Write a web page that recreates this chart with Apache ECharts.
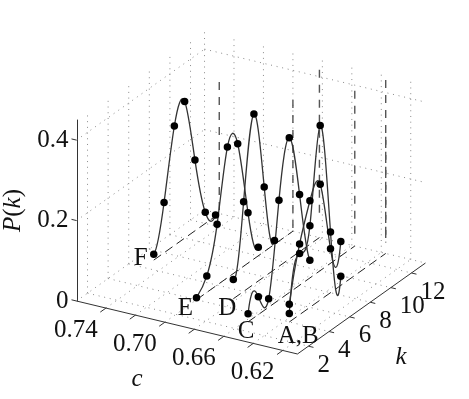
<!DOCTYPE html>
<html>
<head>
<meta charset="utf-8">
<style>html,body{margin:0;padding:0;background:#fff}#c{width:469px;height:399px}</style>
<script src="https://cdn.jsdelivr.net/npm/echarts@6/dist/echarts.min.js"></script>
</head>
<body>
<div id="c"></div>
<script>
// ---- data ----
const curveNames = ['F', 'E', 'D', 'C', 'A', 'B'];
const curveC     = [0.75, 0.70, 0.682, 0.658, 0.637, 0.637];
const curveKFrom = [7, 4, 5, 3, 4, 4];
const curveF = [0.0144, 0.125, 0.297, 0.34, 0.176, 0.028, 0.003];
const curveE = [0.005, 0.041, 0.151, 0.325, 0.315, 0.125, 0.021];
const curveD = [0.048, 0.223, 0.423, 0.223, 0.072];
const curveCC = [0.02, 0.044, 0.021, 0.248, 0.385, 0.226, 0.044];
const curveA = [0.021, 0.152, 0.203, 0.434, 0.151, 0.023];
const curveB = [0.044, 0.176, 0.265, 0.288, 0.109, 0.109];
const guideLow  = [0, 0, 0.055, 0.023, 0.027, 0.027];
const guideHigh = [0.327, 0.326, 0.417, 0.386, 0.431, 0.29];
const cTicks = [0.74, 0.72, 0.70, 0.68, 0.66, 0.64, 0.62];
const cTickLabels = ['0.74', '0.70', '0.66', '0.62'];
const kTicks = [2, 4, 6, 8, 10, 12];
const pGrid = [0, 0.2, 0.4];

// ---- 3D box and its parallel projection ----
const cMin = 0.61, cMax = 0.76, kMin = 0.93, kMax = 13.36, pMax = 0.45;
const W = 469, H = 399;
const FONT = '"Liberation Serif","Times New Roman",serif';
const FS = 25;
function project(c, k, p) {
  return [76.5 + (cMax - c) * 1473 + (k - kMin) * 10.3,
          301 + (cMax - c) * 353.3 - (k - kMin) * 7.32 - p * 402.2];
}

const allCurves = [curveF, curveE, curveD, curveCC, curveA, curveB];

// second derivatives of a not-a-knot cubic spline on unit knots
function splineM(y) {
  const n = y.length, A = [];
  for (let i = 0; i < n; i++) {
    const r = new Array(n + 1).fill(0);
    if (i === 0) { r[0] = 1; r[1] = -2; r[2] = 1; }
    else if (i === n - 1) { r[n - 1] = 1; r[n - 2] = -2; r[n - 3] = 1; }
    else { r[i - 1] = 1; r[i] = 4; r[i + 1] = 1; r[n] = 6 * (y[i + 1] - 2 * y[i] + y[i - 1]); }
    A.push(r);
  }
  for (let i = 0; i < n; i++) {
    let m = i;
    for (let j = i + 1; j < n; j++) if (Math.abs(A[j][i]) > Math.abs(A[m][i])) m = j;
    [A[i], A[m]] = [A[m], A[i]];
    for (let j = 0; j < n; j++) {
      if (j === i) continue;
      const f = A[j][i] / A[i][i];
      for (let q = i; q <= n; q++) A[j][q] -= f * A[i][q];
    }
  }
  return A.map((r, i) => r[n] / r[i]);
}

// ---- segments for box lines ----
function seg(c1, k1, p1, c2, k2, p2) {
  return project(c1, k1, p1).concat(project(c2, k2, p2));
}
const dotted = [];
pGrid.forEach(p => {
  dotted.push(seg(cMax, kMin, p, cMax, kMax, p));
  dotted.push(seg(cMax, kMax, p, cMin, kMax, p));
});
kTicks.forEach(k => {
  dotted.push(seg(cMax, k, 0, cMax, k, pMax));
  dotted.push(seg(cMax, k, 0, cMin, k, 0));
});
cTicks.forEach(c => {
  dotted.push(seg(c, kMax, 0, c, kMax, pMax));
  dotted.push(seg(c, kMin, 0, c, kMax, 0));
});
dotted.push(seg(cMax, kMax, 0, cMax, kMax, pMax));

const solid = [seg(cMax, kMin, 0, cMin, kMin, 0), seg(cMin, kMin, 0, cMin, kMax, 0)];
const tc = 0.0034, tk = 0.55, tp = 5 / 1473;
cTicks.forEach(c => solid.push(seg(c, kMin, 0, c, kMin - tk, 0)));
kTicks.forEach(k => solid.push(seg(cMin, k, 0, cMin - tc, k, 0)));
pGrid.forEach(p => solid.push(seg(cMax, kMin, p, cMax + tp, kMin, p)));

const floorDash = [], wallDash = [];
curveNames.forEach((n, i) => {
  if (n !== 'B') floorDash.push(seg(curveC[i], curveKFrom[i], 0, curveC[i], kMax, 0));
  wallDash.push(seg(curveC[i], kMax, guideHigh[i], curveC[i], kMax, guideLow[i]));
});

function segSeries(rows, style) {
  return {
    type: 'custom', coordinateSystem: 'cartesian2d', xAxisIndex: 0, yAxisIndex: 0,
    clip: false, silent: true, data: rows,
    encode: { x: 0, y: 1 },
    renderItem: function (params, api) {
      const a = api.coord([api.value(0), api.value(1)]);
      const b = api.coord([api.value(2), api.value(3)]);
      return { type: 'line', shape: { x1: a[0], y1: a[1], x2: b[0], y2: b[1] }, style: Object.assign({ fill: null }, style) };
    }
  };
}

// ---- spline curve through one data array, as bezier pieces ----
function curveSeries(i) {
  const vals = allCurves[i], M = splineM(vals), c = curveC[i], k0 = curveKFrom[i];
  return {
    type: 'custom', coordinateSystem: 'cartesian2d', xAxisIndex: 0, yAxisIndex: 0,
    clip: false, silent: true, data: [[0, 0]],
    renderItem: function (params, api) {
      const children = [];
      for (let j = 0; j < vals.length - 1; j++) {
        const d0 = vals[j + 1] - vals[j] - (2 * M[j] + M[j + 1]) / 6;
        const d1 = vals[j + 1] - vals[j] + (M[j] + 2 * M[j + 1]) / 6;
        const a = api.coord(project(c, k0 + j, vals[j]));
        const b = api.coord(project(c, k0 + j + 1 / 3, vals[j] + d0 / 3));
        const e = api.coord(project(c, k0 + j + 2 / 3, vals[j + 1] - d1 / 3));
        const f = api.coord(project(c, k0 + j + 1, vals[j + 1]));
        children.push({
          type: 'bezierCurve',
          shape: { x1: a[0], y1: a[1], cpx1: b[0], cpy1: b[1], cpx2: e[0], cpy2: e[1], x2: f[0], y2: f[1] },
          style: { fill: null, stroke: '#333', lineWidth: 1.3 }
        });
      }
      return { type: 'group', children: children };
    }
  };
}

// ---- all dots ----
const dots = [];
allCurves.forEach((vals, i) => vals.forEach((v, j) => dots.push(project(curveC[i], curveKFrom[i] + j, v))));

// ---- text placed relative to the box ----
const texts = [];
cTickLabels.forEach(s => {
  const p = project(parseFloat(s), kMin, 0);
  texts.push({ x: p[0] - 30, y: p[1] + 22, text: s, align: 'center' });
});
kTicks.forEach(k => {
  const p = project(cMin, k, 0);
  texts.push({ x: p[0] + 9, y: p[1] + 19, text: String(k), align: 'left' });
});
const curveLabelText = ['F', 'E', 'D', 'C', 'A,B'];
const curveLabelOffset = [[-13, -2], [-11, 9], [-6, 10], [-2, 10], [9, 14]];
curveLabelText.forEach((s, i) => {
  const p = project(curveC[i], curveKFrom[i], 0);
  texts.push({ x: p[0] + curveLabelOffset[i][0], y: p[1] + curveLabelOffset[i][1], text: s, align: 'center' });
});
texts.push({ x: 137, y: 379, text: 'c', align: 'center', italic: true });
texts.push({ x: 401, y: 357, text: 'k', align: 'center', italic: true });

const textSeries = {
  type: 'custom', coordinateSystem: 'cartesian2d', xAxisIndex: 0, yAxisIndex: 0,
  clip: false, silent: true, data: texts.map((t, i) => [t.x, t.y, i]),
  z: 10,
  renderItem: function (params, api) {
    const t = texts[params.dataIndex];
    const a = api.coord([t.x, t.y]);
    return {
      type: 'text',
      style: {
        x: a[0], y: a[1], text: t.text, fill: '#111',
        font: (t.italic ? 'italic ' : '') + FS + 'px ' + FONT,
        textAlign: t.align, textVerticalAlign: 'middle'
      }
    };
  }
};

const series = [
  segSeries(dotted, { stroke: '#8a8a8a', lineWidth: 1, lineDash: [1, 4.7] }),
  segSeries(wallDash, { stroke: '#555', lineWidth: 1.4, lineDash: [8, 7] }),
  segSeries(floorDash, { stroke: '#222', lineWidth: 1, lineDash: [9, 5] }),
  segSeries(solid, { stroke: '#333', lineWidth: 1 })
];
allCurves.forEach((v, i) => series.push(curveSeries(i)));
series.push({
  type: 'scatter', xAxisIndex: 0, yAxisIndex: 0, data: dots, symbol: 'circle', symbolSize: 7.5,
  itemStyle: { color: '#000', opacity: 1 }, silent: true, clip: false, z: 5
});
series.push(textSeries);

const chart = echarts.init(document.getElementById('c'), null, { width: W, height: H });
chart.setOption({
  animation: false,
  backgroundColor: '#fff',
  grid: [
    { left: 0, top: 0, width: W, height: H },
    { left: 76.5, top: 120, width: 1, height: 181 }
  ],
  xAxis: [
    { type: 'value', min: 0, max: W, show: false, gridIndex: 0 },
    { type: 'value', min: 0, max: 1, show: false, gridIndex: 1 }
  ],
  yAxis: [
    { type: 'value', min: 0, max: H, inverse: true, show: false, gridIndex: 0 },
    {
      type: 'value', min: 0, max: pMax, interval: 0.2, gridIndex: 1,
      splitLine: { show: false }, axisTick: { show: false },
      axisLine: { show: true, onZero: false, lineStyle: { color: '#333', width: 1 } },
      axisLabel: { color: '#111', fontFamily: FONT, fontSize: FS, margin: 9, showMaxLabel: false },
      name: '{i|P}{n|(}{i|k}{n|)}', nameLocation: 'middle', nameGap: 52, nameRotate: 90,
      nameTextStyle: {
        rich: {
          i: { fontFamily: FONT, fontSize: FS, fontStyle: 'italic', color: '#111' },
          n: { fontFamily: FONT, fontSize: FS, color: '#111' }
        }
      }
    }
  ],
  series: series
});
</script>
</body>
</html>
